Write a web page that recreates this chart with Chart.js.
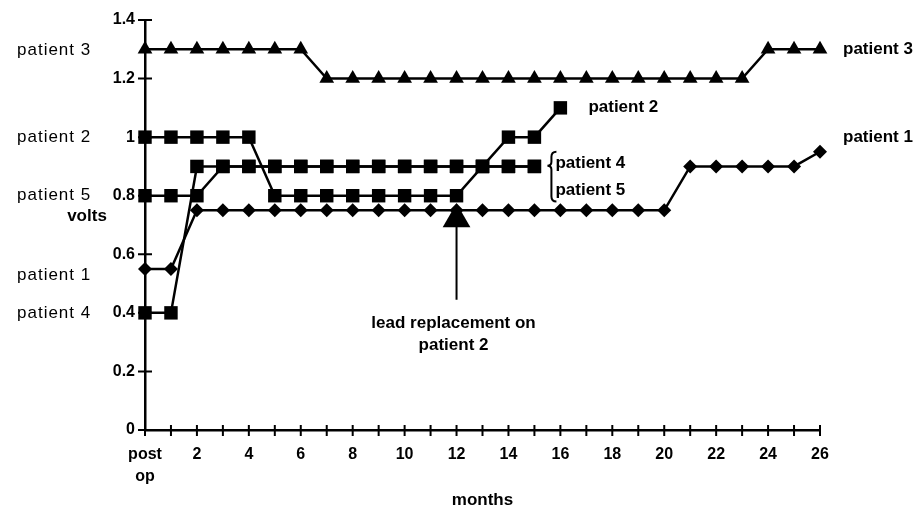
<!DOCTYPE html>
<html>
<head>
<meta charset="utf-8">
<script src="https://cdn.jsdelivr.net/npm/chart.js@4/dist/chart.umd.min.js"></script>
<style>
  html, body { margin: 0; padding: 0; background: #fff; }
</style>
</head>
<body>
<canvas id="voltChart" width="915" height="511"></canvas>
<script>
// months after operation (0 = post op)
var months = [0, 1, 2, 3, 4, 5, 6, 7, 8, 9, 10, 11, 12, 13, 14, 15, 16, 17, 18, 19, 20, 21, 22, 23, 24, 25, 26];

// volts per patient, one value per month (null = no reading)
var patient3 = [1.3, 1.3, 1.3, 1.3, 1.3, 1.3, 1.3, 1.2, 1.2, 1.2, 1.2, 1.2, 1.2, 1.2, 1.2, 1.2, 1.2, 1.2, 1.2, 1.2, 1.2, 1.2, 1.2, 1.2, 1.3, 1.3, 1.3];
var patient2 = [1.0, 1.0, 1.0, 1.0, 1.0, 0.8, 0.8, 0.8, 0.8, 0.8, 0.8, 0.8, 0.8, 0.9, 1.0, 1.0, 1.1, null, null, null, null, null, null, null, null, null, null];
var patient4 = [0.4, 0.4, 0.9, 0.9, 0.9, 0.9, 0.9, 0.9, 0.9, 0.9, 0.9, 0.9, 0.9, 0.9, 0.9, 0.9, null, null, null, null, null, null, null, null, null, null, null];
var patient5 = [0.8, 0.8, 0.8, 0.9, 0.9, 0.9, 0.9, 0.9, 0.9, 0.9, 0.9, 0.9, 0.9, 0.9, 0.9, 0.9, null, null, null, null, null, null, null, null, null, null, null];
var patient1 = [0.55, 0.55, 0.75, 0.75, 0.75, 0.75, 0.75, 0.75, 0.75, 0.75, 0.75, 0.75, 0.75, 0.75, 0.75, 0.75, 0.75, 0.75, 0.75, 0.75, 0.75, 0.9, 0.9, 0.9, 0.9, 0.9, 0.95];

// lead replacement arrow (month, head value, tail value)
var arrowMonth = 12;
var arrowHead = 0.72;
var arrowTail = 0.445;

var yTicks = [0, 0.2, 0.4, 0.6, 0.8, 1, 1.2, 1.4];

function toPoints(vals) {
  var out = [];
  months.forEach(function (m, i) {
    if (vals[i] !== null) out.push({ x: m, y: vals[i] });
  });
  return out;
}

function series(vals, style, r) {
  return {
    data: toPoints(vals),
    borderColor: '#000',
    backgroundColor: '#000',
    borderWidth: 2.5,
    pointStyle: style,
    pointRadius: r,
    pointBorderWidth: 0,
    tension: 0,
    clip: false
  };
}

var BOLD = 'bold 17px "Liberation Sans", Arial, sans-serif';
var REG = '17px "Liberation Sans", Arial, sans-serif';

function txt(ctx, s, x, y, font, align, spacing) {
  ctx.font = font;
  ctx.textAlign = align || 'left';
  ctx.textBaseline = 'middle';
  if ('letterSpacing' in ctx) ctx.letterSpacing = (spacing || 0) + 'px';
  ctx.fillText(s, x, y);
  if ('letterSpacing' in ctx) ctx.letterSpacing = '0px';
}

// crossing tick marks + free text annotations
var extras = {
  id: 'extras',
  afterDraw: function (chart) {
    var ctx = chart.ctx;
    var xs = chart.scales.x, ys = chart.scales.y;
    var ax = xs.getPixelForValue(0), ay = ys.getPixelForValue(0);
    ctx.save();
    ctx.strokeStyle = '#000';
    ctx.fillStyle = '#000';
    ctx.lineWidth = 2;
    ctx.beginPath();
    months.forEach(function (m) {
      var px = xs.getPixelForValue(m);
      ctx.moveTo(px, ay - 5);
      ctx.lineTo(px, ay + 6);
    });
    yTicks.forEach(function (v) {
      var py = ys.getPixelForValue(v);
      ctx.moveTo(ax - 7, py);
      ctx.lineTo(ax + 7, py);
    });
    ctx.stroke();

    // y axis title
    txt(ctx, 'volts', 87, ys.getPixelForValue(0.73), BOLD, 'center');

    // left labels
    var lx = 17;
    txt(ctx, 'patient 3', lx, ys.getPixelForValue(patient3[0]) + 1, REG, 'left', 1);
    txt(ctx, 'patient 2', lx, ys.getPixelForValue(patient2[0]), REG, 'left', 1);
    txt(ctx, 'patient 5', lx, ys.getPixelForValue(patient5[0]), REG, 'left', 1);
    txt(ctx, 'patient 1', lx, ys.getPixelForValue(patient1[0]) + 6, REG, 'left', 1);
    txt(ctx, 'patient 4', lx, ys.getPixelForValue(patient4[0]), REG, 'left', 1);

    // right labels
    var rx = xs.getPixelForValue(26) + 23;
    txt(ctx, 'patient 3', rx, ys.getPixelForValue(1.3), BOLD, 'left');
    txt(ctx, 'patient 1', rx, ys.getPixelForValue(1.0), BOLD, 'left');
    txt(ctx, 'patient 2', xs.getPixelForValue(16) + 28, ys.getPixelForValue(1.1) - 1, BOLD, 'left');

    // brace for patients 4 and 5
    var bx = xs.getPixelForValue(15) + 17;
    var top = ys.getPixelForValue(0.95), bot = ys.getPixelForValue(0.78), mid = top + 14;
    ctx.lineWidth = 2;
    ctx.beginPath();
    ctx.moveTo(bx + 5, top);
    ctx.quadraticCurveTo(bx, top, bx, top + 5);
    ctx.lineTo(bx, mid - 4);
    ctx.quadraticCurveTo(bx, mid, bx - 4, mid);
    ctx.quadraticCurveTo(bx, mid, bx, mid + 4);
    ctx.lineTo(bx, bot - 5);
    ctx.quadraticCurveTo(bx, bot, bx + 5, bot);
    ctx.stroke();
    txt(ctx, 'patient 4', bx + 4, ys.getPixelForValue(0.91), BOLD, 'left');
    txt(ctx, 'patient 5', bx + 4, ys.getPixelForValue(0.82), BOLD, 'left');

    // arrow caption
    var cx = xs.getPixelForValue(arrowMonth) - 3;
    txt(ctx, 'lead replacement on', cx, ys.getPixelForValue(arrowTail) + 24, BOLD, 'center');
    txt(ctx, 'patient 2', cx, ys.getPixelForValue(arrowTail) + 46, BOLD, 'center');
    ctx.restore();
  }
};

var ctx = document.getElementById('voltChart');
new Chart(ctx, {
  type: 'line',
  data: {
    datasets: [
      series(patient1, 'rectRot', 7),
      series(patient4, 'rect', 9.5),
      series(patient5, 'rect', 9.5),
      series(patient2, 'rect', 9.5),
      series(patient3, 'triangle', 8.5),
      {
        data: [{ x: arrowMonth, y: arrowHead }, { x: arrowMonth, y: arrowTail }],
        borderColor: '#000',
        backgroundColor: '#000',
        borderWidth: 2,
        pointStyle: 'triangle',
        pointRadius: [16, 0],
        pointBorderWidth: 0,
        clip: false
      }
    ]
  },
  options: {
    responsive: false,
    animation: false,
    events: [],
    layout: { padding: { top: 20, right: 95, left: 0, bottom: 0 } },
    plugins: { legend: { display: false }, tooltip: { enabled: false } },
    scales: {
      x: {
        type: 'linear',
        min: 0,
        max: 26,
        afterFit: function (s) { s.height = 81; },
        border: { display: true, color: '#000', width: 2.5 },
        grid: { display: true, drawOnChartArea: false, drawTicks: false },
        ticks: {
          stepSize: 1,
          autoSkip: false,
          maxRotation: 0,
          padding: 14,
          color: '#000',
          font: { family: '"Liberation Sans", Arial, sans-serif', size: 16, weight: 'bold', lineHeight: 1.35 },
          callback: function (v) {
            if (v === 0) return ['post', 'op'];
            return v % 2 === 0 ? String(v) : '';
          }
        },
        title: {
          display: true,
          text: 'months',
          color: '#000',
          padding: { top: 0, bottom: 0 },
          font: { family: '"Liberation Sans", Arial, sans-serif', size: 17, weight: 'bold' }
        }
      },
      y: {
        min: 0,
        max: 1.4,
        afterFit: function (s) { s.width = 145; },
        border: { display: true, color: '#000', width: 2.5 },
        grid: { display: true, drawOnChartArea: false, drawTicks: false },
        ticks: {
          stepSize: 0.2,
          padding: 10,
          color: '#000',
          font: { family: '"Liberation Sans", Arial, sans-serif', size: 16, weight: 'bold' },
          callback: function (v) { return String(+v.toFixed(1)); }
        }
      }
    }
  },
  plugins: [extras]
});
</script>
</body>
</html>
